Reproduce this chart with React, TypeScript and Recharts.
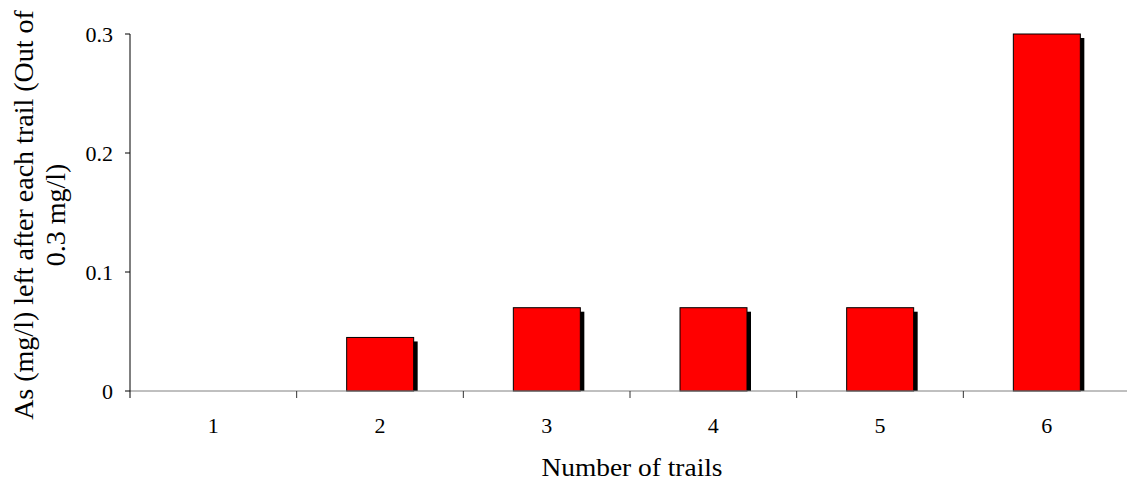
import React from 'react';
import { BarChart, Bar, XAxis, YAxis, Label } from 'recharts';

const categories = ['1', '2', '3', '4', '5', '6'];
const values = [0, 0.045, 0.07, 0.07, 0.07, 0.3];
const yTicks = [0, 0.1, 0.2, 0.3];
const yTitleLines = ['As (mg/l) left after each trail (Out of', '0.3 mg/l)'];
const xTitle = 'Number of trails';

const data = categories.map((c, i) => ({ trial: c, value: values[i] }));

const W = 1135;
const H = 483;
const M = { top: 34, right: 5, bottom: 0, left: 0 };
const YW = 130;
const XH = 92;
const band = (W - M.right - M.left - YW) / categories.length;
const SERIF = '"Liberation Serif", "Times New Roman", serif';

function ShadowBar(props: any) {
  const { x, y, width, height } = props;
  if (!height || height <= 0) return null;
  const off = 4;
  return (
    <g>
      <rect x={x + off} y={y + off} width={width} height={Math.max(0, height - off)} fill="#000" />
      <rect x={x} y={y} width={width} height={height} fill="#ff0000" stroke="#000" strokeWidth={1} />
    </g>
  );
}

function XTick(props: any) {
  const { x, y, payload, index } = props;
  const last = index === categories.length - 1;
  return (
    <g>
      <line x1={x - band / 2} y1={y} x2={x - band / 2} y2={y + 7} stroke={index === 0 ? '#000' : '#333'} strokeWidth={1} />
      {last && <line x1={x + band / 2} y1={y} x2={x + band / 2} y2={y + 7} stroke="#333" strokeWidth={1} />}
      <text x={x} y={y + 42} textAnchor="middle" fontFamily={SERIF} fontSize={22} fill="#000">
        {payload.value}
      </text>
    </g>
  );
}

export default function App() {
  return (
    <div style={{ position: 'absolute', left: 0, top: 0, width: 1127, height: 483, overflow: 'hidden', background: '#fff' }}>
      <BarChart width={W} height={H} data={data} margin={M} barSize={67}>
        <XAxis
          dataKey="trial"
          height={XH}
          axisLine={{ stroke: '#808080', strokeWidth: 1 }}
          tickLine={false}
          tickSize={0}
          tickMargin={0}
          tick={<XTick />}
          interval={0}
        >
          <Label
            content={(p: any) => {
              const vb = p.viewBox;
              return (
                <text
                  x={vb.x + vb.width / 2 + 2}
                  y={476}
                  textAnchor="middle"
                  fontFamily={SERIF}
                  fontSize={25}
                  fill="#000"
                  textLength={181}
                  lengthAdjust="spacingAndGlyphs"
                >
                  {xTitle}
                </text>
              );
            }}
          />
        </XAxis>
        <YAxis
          width={YW}
          domain={[0, 0.3]}
          ticks={yTicks}
          interval={0}
          axisLine={{ stroke: '#000', strokeWidth: 1 }}
          tickLine={{ stroke: '#000' }}
          tickSize={5}
          tickMargin={12}
          tick={{ fill: '#000', fontSize: 22, fontFamily: SERIF }}
          tickFormatter={(v: number) => String(v)}
        >
          <Label
            content={(p: any) => {
              const vb = p.viewBox;
              const cy = vb.y + vb.height / 2 + 2.5;
              return (
                <text transform={`translate(0,${cy}) rotate(-90)`} textAnchor="middle" fontFamily={SERIF} fontSize={28} fill="#000">
                  <tspan x={0} y={33}>{yTitleLines[0]}</tspan>
                  <tspan x={0} y={65}>{yTitleLines[1]}</tspan>
                </text>
              );
            }}
          />
        </YAxis>
        <Bar dataKey="value" shape={<ShadowBar />} isAnimationActive={false} />
      </BarChart>
    </div>
  );
}
